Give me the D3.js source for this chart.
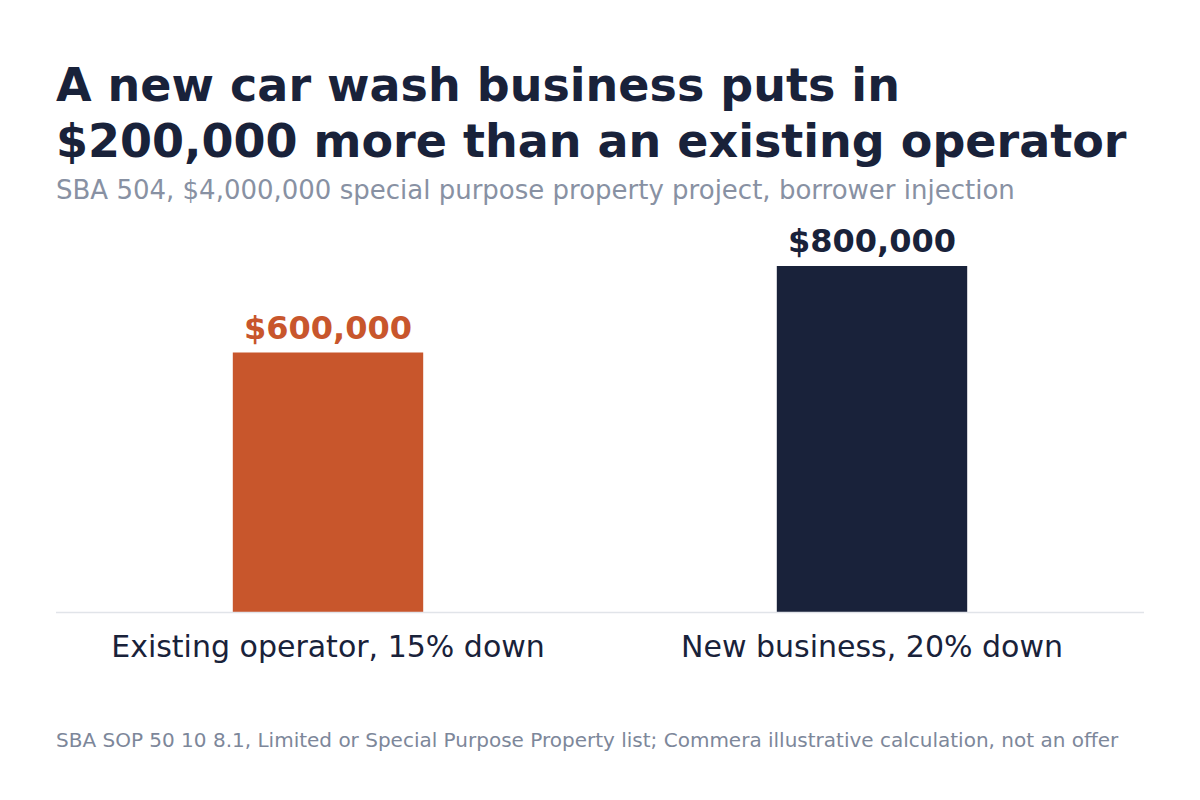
<!DOCTYPE html>
<html>
<head>
<meta charset="utf-8">
<script src="https://cdn.jsdelivr.net/npm/d3@7"></script>
<style>
  body { margin: 0; background: #fff; }
  svg { display: block; font-family: "DejaVu Sans", sans-serif; }
</style>
</head>
<body>
<svg></svg>
<script>
const categories = ["Existing operator, 15% down", "New business, 20% down"];
const values = [600000, 800000];
const valueLabels = ["$600,000", "$800,000"];
const barColors = ["#c8562c", "#19223a"];

const width = 1200;
const height = 800;
const svg = d3.select("svg")
              .attr("width", width)
              .attr("height", height);

const navy = "#19223a";

// title block
svg.append("text")
    .attr("x", 56).attr("y", 101)
    .attr("font-size", 46).attr("font-weight", "bold")
    .attr("fill", navy)
    .text("A new car wash business puts in");
svg.append("text")
    .attr("x", 56).attr("y", 157)
    .attr("font-size", 46).attr("font-weight", "bold")
    .attr("fill", navy)
    .text("$200,000 more than an existing operator");
svg.append("text")
    .attr("x", 56).attr("y", 199)
    .attr("font-size", 26)
    .attr("fill", "#8891a3")
    .text("SBA 504, $4,000,000 special purpose property project, borrower injection");

const x = d3.scaleBand()
    .domain(categories)
    .range([56, 1144])
    .paddingInner(0.65)
    .paddingOuter(0.325);

const y = d3.scaleLinear()
    .domain([0, d3.max(values)])
    .range([612, 266]);

const data = categories.map((c, i) => ({cat: c, value: values[i], label: valueLabels[i], color: barColors[i]}));

svg.append("g").selectAll("rect")
    .data(data)
    .enter()
    .append("rect")
      .attr("x", d => x(d.cat))
      .attr("y", d => y(d.value))
      .attr("width", x.bandwidth())
      .attr("height", d => y(0) - y(d.value))
      .attr("fill", d => d.color);

svg.append("g").selectAll("text")
    .data(data)
    .enter()
    .append("text")
      .attr("x", d => x(d.cat) + x.bandwidth() / 2)
      .attr("y", d => y(d.value) - 14)
      .attr("text-anchor", "middle")
      .attr("font-size", 32).attr("font-weight", "bold")
      .attr("fill", d => d.color)
      .text(d => d.label);

// baseline
svg.append("line")
    .attr("x1", 56).attr("x2", 1144)
    .attr("y1", y(0) + 0.5).attr("y2", y(0) + 0.5)
    .attr("stroke", "#e1e4e9").attr("stroke-width", 1.5);

const xAxis = svg.append("g")
    .attr("transform", `translate(0,${y(0)})`)
    .call(d3.axisBottom(x).tickSize(0).tickPadding(24));
xAxis.select(".domain").remove();
xAxis.selectAll("text")
    .attr("font-size", 30)
    .attr("font-family", "DejaVu Sans, sans-serif")
    .attr("fill", navy);

svg.append("text")
    .attr("x", 56).attr("y", 747)
    .attr("font-size", 20)
    .attr("fill", "#7d879a")
    .text("SBA SOP 50 10 8.1, Limited or Special Purpose Property list; Commera illustrative calculation, not an offer");
</script>
</body>
</html>
